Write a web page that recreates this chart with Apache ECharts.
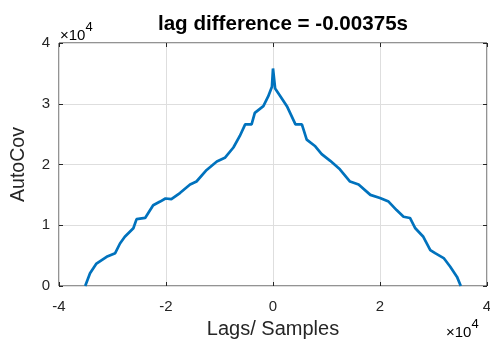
<!DOCTYPE html>
<html>
<head>
<meta charset="utf-8">
<script src="https://cdn.jsdelivr.net/npm/echarts@6/dist/echarts.min.js"></script>
<style>
  html, body { margin: 0; padding: 0; background: #fff; }
  #main { width: 490px; height: 339px; }
</style>
</head>
<body>
<div id="main"></div>
<script>
// lags in samples, autocovariance values
var lags = [-35100, -34200, -33000, -31100, -29500, -28600, -27700, -26100, -25500, -23900,
            -22400, -21100, -20100, -19000, -17400, -15500, -14300, -12400, -10500, -9000,
            -7400, -6200, -5200, -4000, -3400, -1800, -900, -200, 0, 400,
            1400, 2600, 4200, 5400, 6300, 7900, 9100, 10700, 12500, 14400,
            16000, 18200, 20000, 21600, 23100, 24400, 25600, 26600, 28100, 29400,
            30300, 31900, 33100, 34400, 35100];
var autoCov = [0, 2100, 3700, 4800, 5400, 7000, 8100, 9500, 11000, 11200,
               13300, 13900, 14400, 14300, 15300, 16700, 17200, 19100, 20500, 21100,
               22800, 24700, 26600, 26600, 28500, 29600, 31200, 32800, 35800, 32500,
               31200, 29600, 26600, 26600, 24100, 23000, 21700, 20600, 19200, 17200,
               16700, 15000, 14500, 13900, 12500, 11400, 11200, 9500, 8100, 5900,
               5400, 4600, 3200, 1500, 0];
var xTicks = [-40000, -20000, 0, 20000, 40000];
var yTicks = [0, 10000, 20000, 30000, 40000];

initPage();

function initPage(){
    var myChart = echarts.init(document.getElementById('main'));
    var points = [];
    for(var i=0;i<lags.length;i++){
        points.push([lags[i], autoCov[i]]);
    }
    var axisColor = '#262626';
    var font = 'Liberation Sans, Arial, Helvetica, sans-serif';
    var tickFmt = function(v){ return String(v/10000); };
    var expRich = {
        a: { fontFamily: font, fontSize: 15, color: axisColor, padding: [7, 0, 0, 0] },
        b: { fontFamily: font, fontSize: 13, color: axisColor, verticalAlign: 'top' }
    };
    // box axes on top / right: ticks only
    var xBase = {
        type: 'value',
        min: xTicks[0], max: xTicks[xTicks.length-1], interval: 20000,
        axisLine: { show: false, onZero: false },
        axisTick: { show: true, inside: true, length: 4, lineStyle: { color: axisColor } },
        splitLine: { show: false }
    };
    var yBase = {
        type: 'value',
        min: yTicks[0], max: yTicks[yTicks.length-1], interval: 10000,
        axisLine: { show: false, onZero: false },
        axisTick: { show: true, inside: true, length: 4, lineStyle: { color: axisColor } },
        splitLine: { show: false }
    };

    option = {
        animation: false,
        backgroundColor: '#ffffff',
        title: {
            text: 'lag difference = -0.00375s',
            left: 278,
            textAlign: 'center',
            top: 9,
            textStyle: { fontFamily: font, fontSize: 20.6, fontWeight: 'bold', color: '#000' }
        },
        grid: { left: 59, right: 3, top: 43, bottom: 53, show: true,
                outerBoundsMode: 'none', containLabel: false,
                borderColor: axisColor, borderWidth: 1, backgroundColor: 'transparent' },
        xAxis: [Object.assign({}, xBase, {
            name: 'Lags/ Samples',
            nameLocation: 'middle',
            nameGap: 33,
            nameTextStyle: { fontFamily: font, fontSize: 20, color: axisColor },
            axisLabel: { formatter: tickFmt, fontFamily: font, fontSize: 15, color: axisColor, margin: 13 },
            splitLine: { show: true, lineStyle: { color: '#dedede', width: 1 } }
        }), Object.assign({}, xBase, {
            position: 'top',
            axisLabel: { show: false }
        })],
        yAxis: [Object.assign({}, yBase, {
            name: 'AutoCov',
            nameLocation: 'middle',
            nameGap: 30,
            nameTextStyle: { fontFamily: font, fontSize: 19.5, color: axisColor },
            axisLabel: { formatter: tickFmt, fontFamily: font, fontSize: 15, color: axisColor, margin: 9 },
            splitLine: { show: true, lineStyle: { color: '#dedede', width: 1 } }
        }), Object.assign({}, yBase, {
            position: 'right',
            axisLabel: { show: false }
        })],
        graphic: [{
            type: 'text', left: 60, top: 21,
            style: { text: '{a|×10}{b|4}', rich: expRich }
        }, {
            type: 'text', left: 446, top: 318,
            style: { text: '{a|×10}{b|4}', rich: expRich }
        }],
        series: [{
            name: 'AutoCov',
            type: 'line',
            data: points,
            showSymbol: false,
            lineStyle: { color: '#0072bd', width: 2.7 },
            itemStyle: { color: '#0072bd' }
        }]
    };
    myChart.setOption(option);
}
</script>
</body>
</html>
